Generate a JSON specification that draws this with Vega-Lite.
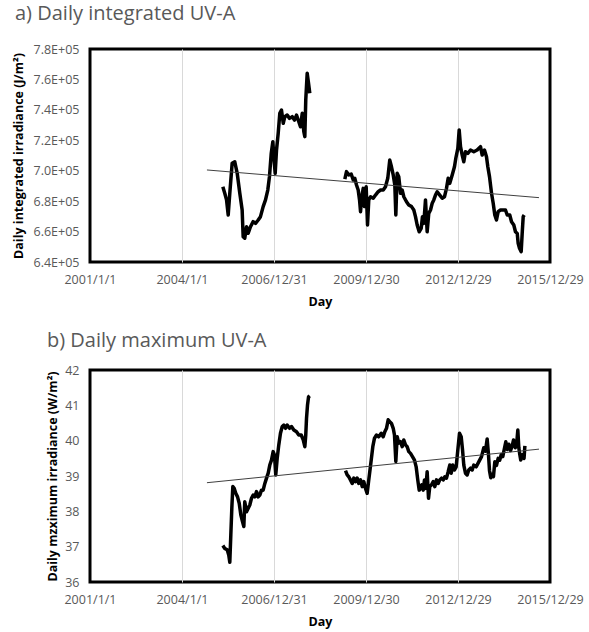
{
  "$schema": "https://vega.github.io/schema/vega-lite/v6.json",
  "background": "white",
  "padding": {"top": 2, "left": 10, "right": 5, "bottom": 2},
  "spacing": 19,
  "datasets": {
    "integrated": [
      {"date": "2005-05-01", "irradiance": 689500, "period": 1},
      {"date": "2005-05-24", "irradiance": 685200, "period": 1},
      {"date": "2005-06-14", "irradiance": 680800, "period": 1},
      {"date": "2005-07-04", "irradiance": 670900, "period": 1},
      {"date": "2005-07-23", "irradiance": 685200, "period": 1},
      {"date": "2005-08-20", "irradiance": 704900, "period": 1},
      {"date": "2005-09-20", "irradiance": 705900, "period": 1},
      {"date": "2005-10-19", "irradiance": 698300, "period": 1},
      {"date": "2005-11-19", "irradiance": 685200, "period": 1},
      {"date": "2005-12-17", "irradiance": 674200, "period": 1},
      {"date": "2005-12-29", "irradiance": 656600, "period": 1},
      {"date": "2006-01-17", "irradiance": 655600, "period": 1},
      {"date": "2006-02-07", "irradiance": 663200, "period": 1},
      {"date": "2006-02-27", "irradiance": 658900, "period": 1},
      {"date": "2006-03-26", "irradiance": 663200, "period": 1},
      {"date": "2006-04-27", "irradiance": 666500, "period": 1},
      {"date": "2006-05-25", "irradiance": 665400, "period": 1},
      {"date": "2006-06-26", "irradiance": 667600, "period": 1},
      {"date": "2006-07-23", "irradiance": 669800, "period": 1},
      {"date": "2006-08-24", "irradiance": 676400, "period": 1},
      {"date": "2006-09-21", "irradiance": 680800, "period": 1},
      {"date": "2006-10-18", "irradiance": 687300, "period": 1},
      {"date": "2006-11-07", "irradiance": 696100, "period": 1},
      {"date": "2006-11-28", "irradiance": 711400, "period": 1},
      {"date": "2006-12-17", "irradiance": 719100, "period": 1},
      {"date": "2006-12-29", "irradiance": 709200, "period": 1},
      {"date": "2007-01-14", "irradiance": 698300, "period": 1},
      {"date": "2007-01-30", "irradiance": 713600, "period": 1},
      {"date": "2007-02-19", "irradiance": 724600, "period": 1},
      {"date": "2007-03-10", "irradiance": 737700, "period": 1},
      {"date": "2007-03-30", "irradiance": 739900, "period": 1},
      {"date": "2007-04-20", "irradiance": 731200, "period": 1},
      {"date": "2007-05-09", "irradiance": 735500, "period": 1},
      {"date": "2007-06-06", "irradiance": 736600, "period": 1},
      {"date": "2007-07-04", "irradiance": 734400, "period": 1},
      {"date": "2007-08-05", "irradiance": 735500, "period": 1},
      {"date": "2007-09-01", "irradiance": 733300, "period": 1},
      {"date": "2007-09-25", "irradiance": 736600, "period": 1},
      {"date": "2007-10-22", "irradiance": 732200, "period": 1},
      {"date": "2007-11-11", "irradiance": 728900, "period": 1},
      {"date": "2007-12-02", "irradiance": 737700, "period": 1},
      {"date": "2007-12-21", "irradiance": 725600, "period": 1},
      {"date": "2008-01-02", "irradiance": 722400, "period": 1},
      {"date": "2008-01-13", "irradiance": 746500, "period": 1},
      {"date": "2008-01-30", "irradiance": 764000, "period": 1},
      {"date": "2008-02-15", "irradiance": 757500, "period": 1},
      {"date": "2008-03-01", "irradiance": 750900, "period": 1},
      {"date": "2009-04-22", "irradiance": 694400, "period": 2},
      {"date": "2009-05-12", "irradiance": 699400, "period": 2},
      {"date": "2009-06-08", "irradiance": 697200, "period": 2},
      {"date": "2009-07-07", "irradiance": 697800, "period": 2},
      {"date": "2009-07-31", "irradiance": 693900, "period": 2},
      {"date": "2009-08-19", "irradiance": 695000, "period": 2},
      {"date": "2009-09-08", "irradiance": 690600, "period": 2},
      {"date": "2009-09-28", "irradiance": 687300, "period": 2},
      {"date": "2009-10-14", "irradiance": 680800, "period": 2},
      {"date": "2009-10-26", "irradiance": 673100, "period": 2},
      {"date": "2009-11-10", "irradiance": 682900, "period": 2},
      {"date": "2009-11-27", "irradiance": 688400, "period": 2},
      {"date": "2009-12-12", "irradiance": 676400, "period": 2},
      {"date": "2010-01-01", "irradiance": 689500, "period": 2},
      {"date": "2010-01-17", "irradiance": 664300, "period": 2},
      {"date": "2010-02-01", "irradiance": 680800, "period": 2},
      {"date": "2010-02-22", "irradiance": 682900, "period": 2},
      {"date": "2010-03-26", "irradiance": 681900, "period": 2},
      {"date": "2010-04-22", "irradiance": 684000, "period": 2},
      {"date": "2010-05-24", "irradiance": 686200, "period": 2},
      {"date": "2010-06-21", "irradiance": 687300, "period": 2},
      {"date": "2010-07-23", "irradiance": 687300, "period": 2},
      {"date": "2010-08-19", "irradiance": 689500, "period": 2},
      {"date": "2010-09-15", "irradiance": 695000, "period": 2},
      {"date": "2010-10-09", "irradiance": 707000, "period": 2},
      {"date": "2010-10-29", "irradiance": 702600, "period": 2},
      {"date": "2010-11-19", "irradiance": 697200, "period": 2},
      {"date": "2010-12-08", "irradiance": 690600, "period": 2},
      {"date": "2010-12-20", "irradiance": 670900, "period": 2},
      {"date": "2011-01-05", "irradiance": 698300, "period": 2},
      {"date": "2011-01-24", "irradiance": 696100, "period": 2},
      {"date": "2011-02-14", "irradiance": 685200, "period": 2},
      {"date": "2011-03-06", "irradiance": 687300, "period": 2},
      {"date": "2011-03-25", "irradiance": 682900, "period": 2},
      {"date": "2011-04-26", "irradiance": 679600, "period": 2},
      {"date": "2011-05-23", "irradiance": 677500, "period": 2},
      {"date": "2011-06-25", "irradiance": 676400, "period": 2},
      {"date": "2011-07-22", "irradiance": 674200, "period": 2},
      {"date": "2011-08-11", "irradiance": 669800, "period": 2},
      {"date": "2011-08-31", "irradiance": 664300, "period": 2},
      {"date": "2011-09-24", "irradiance": 659900, "period": 2},
      {"date": "2011-10-18", "irradiance": 662100, "period": 2},
      {"date": "2011-11-02", "irradiance": 669800, "period": 2},
      {"date": "2011-11-18", "irradiance": 665400, "period": 2},
      {"date": "2011-12-08", "irradiance": 680800, "period": 2},
      {"date": "2011-12-28", "irradiance": 659900, "period": 2},
      {"date": "2012-01-16", "irradiance": 672000, "period": 2},
      {"date": "2012-02-06", "irradiance": 674200, "period": 2},
      {"date": "2012-02-26", "irradiance": 678600, "period": 2},
      {"date": "2012-03-16", "irradiance": 680800, "period": 2},
      {"date": "2012-04-05", "irradiance": 684000, "period": 2},
      {"date": "2012-04-25", "irradiance": 686200, "period": 2},
      {"date": "2012-05-26", "irradiance": 684000, "period": 2},
      {"date": "2012-06-24", "irradiance": 681900, "period": 2},
      {"date": "2012-07-21", "irradiance": 682900, "period": 2},
      {"date": "2012-08-14", "irradiance": 688400, "period": 2},
      {"date": "2012-09-03", "irradiance": 695000, "period": 2},
      {"date": "2012-09-22", "irradiance": 691700, "period": 2},
      {"date": "2012-10-21", "irradiance": 697200, "period": 2},
      {"date": "2012-11-17", "irradiance": 702600, "period": 2},
      {"date": "2012-12-03", "irradiance": 708200, "period": 2},
      {"date": "2012-12-27", "irradiance": 714700, "period": 2},
      {"date": "2013-01-12", "irradiance": 726800, "period": 2},
      {"date": "2013-01-28", "irradiance": 715800, "period": 2},
      {"date": "2013-02-17", "irradiance": 710300, "period": 2},
      {"date": "2013-03-08", "irradiance": 705900, "period": 2},
      {"date": "2013-03-28", "irradiance": 712500, "period": 2},
      {"date": "2013-04-25", "irradiance": 711400, "period": 2},
      {"date": "2013-05-27", "irradiance": 713600, "period": 2},
      {"date": "2013-07-05", "irradiance": 712500, "period": 2},
      {"date": "2013-08-14", "irradiance": 713600, "period": 2},
      {"date": "2013-09-23", "irradiance": 715800, "period": 2},
      {"date": "2013-10-13", "irradiance": 710300, "period": 2},
      {"date": "2013-11-09", "irradiance": 713600, "period": 2},
      {"date": "2013-12-03", "irradiance": 709200, "period": 2},
      {"date": "2013-12-19", "irradiance": 702600, "period": 2},
      {"date": "2014-01-08", "irradiance": 696100, "period": 2},
      {"date": "2014-02-01", "irradiance": 685200, "period": 2},
      {"date": "2014-02-21", "irradiance": 678600, "period": 2},
      {"date": "2014-03-12", "irradiance": 670900, "period": 2},
      {"date": "2014-04-01", "irradiance": 667600, "period": 2},
      {"date": "2014-04-21", "irradiance": 673100, "period": 2},
      {"date": "2014-05-19", "irradiance": 674200, "period": 2},
      {"date": "2014-06-20", "irradiance": 674200, "period": 2},
      {"date": "2014-07-17", "irradiance": 674200, "period": 2},
      {"date": "2014-08-07", "irradiance": 670900, "period": 2},
      {"date": "2014-09-06", "irradiance": 670900, "period": 2},
      {"date": "2014-09-27", "irradiance": 666500, "period": 2},
      {"date": "2014-10-24", "irradiance": 664300, "period": 2},
      {"date": "2014-11-13", "irradiance": 659900, "period": 2},
      {"date": "2014-12-04", "irradiance": 658800, "period": 2},
      {"date": "2014-12-15", "irradiance": 652300, "period": 2},
      {"date": "2014-12-31", "irradiance": 649000, "period": 2},
      {"date": "2015-01-20", "irradiance": 646800, "period": 2},
      {"date": "2015-02-01", "irradiance": 658800, "period": 2},
      {"date": "2015-02-13", "irradiance": 669800, "period": 2},
      {"date": "2015-02-25", "irradiance": 670900, "period": 2}
    ],
    "integrated_trend": [
      {"date": "2004-10-24", "irradiance": 700500},
      {"date": "2015-08-20", "irradiance": 682300}
    ],
    "maximum": [
      {"date": "2005-05-01", "irradiance": 37.03, "period": 1},
      {"date": "2005-05-24", "irradiance": 36.95, "period": 1},
      {"date": "2005-06-22", "irradiance": 36.91, "period": 1},
      {"date": "2005-07-11", "irradiance": 36.76, "period": 1},
      {"date": "2005-07-23", "irradiance": 36.56, "period": 1},
      {"date": "2005-08-04", "irradiance": 37.33, "period": 1},
      {"date": "2005-08-16", "irradiance": 38.09, "period": 1},
      {"date": "2005-08-28", "irradiance": 38.70, "period": 1},
      {"date": "2005-09-13", "irradiance": 38.65, "period": 1},
      {"date": "2005-10-02", "irradiance": 38.51, "period": 1},
      {"date": "2005-10-23", "irradiance": 38.41, "period": 1},
      {"date": "2005-11-12", "irradiance": 38.23, "period": 1},
      {"date": "2005-12-01", "irradiance": 37.90, "period": 1},
      {"date": "2005-12-21", "irradiance": 37.71, "period": 1},
      {"date": "2006-01-06", "irradiance": 37.57, "period": 1},
      {"date": "2006-01-17", "irradiance": 38.27, "period": 1},
      {"date": "2006-02-07", "irradiance": 37.99, "period": 1},
      {"date": "2006-02-27", "irradiance": 38.09, "period": 1},
      {"date": "2006-03-18", "irradiance": 38.18, "period": 1},
      {"date": "2006-04-07", "irradiance": 38.37, "period": 1},
      {"date": "2006-04-27", "irradiance": 38.46, "period": 1},
      {"date": "2006-05-17", "irradiance": 38.41, "period": 1},
      {"date": "2006-06-06", "irradiance": 38.56, "period": 1},
      {"date": "2006-06-26", "irradiance": 38.41, "period": 1},
      {"date": "2006-07-15", "irradiance": 38.46, "period": 1},
      {"date": "2006-08-04", "irradiance": 38.60, "period": 1},
      {"date": "2006-08-24", "irradiance": 38.60, "period": 1},
      {"date": "2006-09-13", "irradiance": 38.79, "period": 1},
      {"date": "2006-10-03", "irradiance": 38.94, "period": 1},
      {"date": "2006-10-23", "irradiance": 39.08, "period": 1},
      {"date": "2006-11-11", "irradiance": 39.31, "period": 1},
      {"date": "2006-12-01", "irradiance": 39.45, "period": 1},
      {"date": "2006-12-21", "irradiance": 39.69, "period": 1},
      {"date": "2007-01-06", "irradiance": 39.59, "period": 1},
      {"date": "2007-01-21", "irradiance": 39.03, "period": 1},
      {"date": "2007-02-07", "irradiance": 39.50, "period": 1},
      {"date": "2007-02-26", "irradiance": 39.88, "period": 1},
      {"date": "2007-03-18", "irradiance": 40.21, "period": 1},
      {"date": "2007-04-08", "irradiance": 40.40, "period": 1},
      {"date": "2007-04-27", "irradiance": 40.44, "period": 1},
      {"date": "2007-05-17", "irradiance": 40.35, "period": 1},
      {"date": "2007-06-06", "irradiance": 40.44, "period": 1},
      {"date": "2007-07-04", "irradiance": 40.35, "period": 1},
      {"date": "2007-07-27", "irradiance": 40.40, "period": 1},
      {"date": "2007-08-24", "irradiance": 40.30, "period": 1},
      {"date": "2007-09-25", "irradiance": 40.25, "period": 1},
      {"date": "2007-10-22", "irradiance": 40.16, "period": 1},
      {"date": "2007-11-20", "irradiance": 40.16, "period": 1},
      {"date": "2007-12-14", "irradiance": 40.02, "period": 1},
      {"date": "2008-01-02", "irradiance": 39.83, "period": 1},
      {"date": "2008-01-13", "irradiance": 40.16, "period": 1},
      {"date": "2008-01-22", "irradiance": 40.63, "period": 1},
      {"date": "2008-02-03", "irradiance": 41.01, "period": 1},
      {"date": "2008-02-15", "irradiance": 41.24, "period": 1},
      {"date": "2008-03-01", "irradiance": 41.27, "period": 1},
      {"date": "2009-04-30", "irradiance": 39.15, "period": 2},
      {"date": "2009-05-20", "irradiance": 39.03, "period": 2},
      {"date": "2009-06-08", "irradiance": 38.98, "period": 2},
      {"date": "2009-06-28", "irradiance": 38.89, "period": 2},
      {"date": "2009-07-19", "irradiance": 38.79, "period": 2},
      {"date": "2009-08-07", "irradiance": 38.94, "period": 2},
      {"date": "2009-08-27", "irradiance": 38.84, "period": 2},
      {"date": "2009-09-16", "irradiance": 38.94, "period": 2},
      {"date": "2009-10-05", "irradiance": 38.79, "period": 2},
      {"date": "2009-10-26", "irradiance": 38.89, "period": 2},
      {"date": "2009-11-15", "irradiance": 38.70, "period": 2},
      {"date": "2009-12-04", "irradiance": 38.84, "period": 2},
      {"date": "2009-12-24", "irradiance": 38.65, "period": 2},
      {"date": "2010-01-13", "irradiance": 38.51, "period": 2},
      {"date": "2010-02-01", "irradiance": 38.89, "period": 2},
      {"date": "2010-02-13", "irradiance": 39.12, "period": 2},
      {"date": "2010-03-02", "irradiance": 39.45, "period": 2},
      {"date": "2010-03-21", "irradiance": 39.83, "period": 2},
      {"date": "2010-04-10", "irradiance": 40.07, "period": 2},
      {"date": "2010-05-04", "irradiance": 40.16, "period": 2},
      {"date": "2010-05-31", "irradiance": 40.11, "period": 2},
      {"date": "2010-06-29", "irradiance": 40.21, "period": 2},
      {"date": "2010-07-23", "irradiance": 40.11, "period": 2},
      {"date": "2010-08-11", "irradiance": 40.25, "period": 2},
      {"date": "2010-08-31", "irradiance": 40.35, "period": 2},
      {"date": "2010-09-20", "irradiance": 40.59, "period": 2},
      {"date": "2010-10-09", "irradiance": 40.54, "period": 2},
      {"date": "2010-10-29", "irradiance": 40.49, "period": 2},
      {"date": "2010-11-19", "irradiance": 40.35, "period": 2},
      {"date": "2010-12-04", "irradiance": 40.16, "period": 2},
      {"date": "2010-12-20", "irradiance": 39.41, "period": 2},
      {"date": "2011-01-05", "irradiance": 40.11, "period": 2},
      {"date": "2011-01-24", "irradiance": 39.93, "period": 2},
      {"date": "2011-02-14", "irradiance": 39.97, "period": 2},
      {"date": "2011-03-06", "irradiance": 39.83, "period": 2},
      {"date": "2011-03-25", "irradiance": 40.02, "period": 2},
      {"date": "2011-04-14", "irradiance": 39.88, "period": 2},
      {"date": "2011-05-04", "irradiance": 39.83, "period": 2},
      {"date": "2011-05-23", "irradiance": 39.69, "period": 2},
      {"date": "2011-06-13", "irradiance": 39.64, "period": 2},
      {"date": "2011-07-06", "irradiance": 39.55, "period": 2},
      {"date": "2011-07-30", "irradiance": 39.45, "period": 2},
      {"date": "2011-08-19", "irradiance": 39.26, "period": 2},
      {"date": "2011-09-07", "irradiance": 38.89, "period": 2},
      {"date": "2011-09-24", "irradiance": 38.60, "period": 2},
      {"date": "2011-10-09", "irradiance": 38.65, "period": 2},
      {"date": "2011-10-25", "irradiance": 38.75, "period": 2},
      {"date": "2011-11-11", "irradiance": 38.60, "period": 2},
      {"date": "2011-11-26", "irradiance": 38.89, "period": 2},
      {"date": "2011-12-12", "irradiance": 38.65, "period": 2},
      {"date": "2011-12-28", "irradiance": 39.12, "period": 2},
      {"date": "2012-01-13", "irradiance": 38.37, "period": 2},
      {"date": "2012-01-28", "irradiance": 38.70, "period": 2},
      {"date": "2012-02-18", "irradiance": 38.75, "period": 2},
      {"date": "2012-03-09", "irradiance": 38.84, "period": 2},
      {"date": "2012-03-28", "irradiance": 38.70, "period": 2},
      {"date": "2012-04-17", "irradiance": 38.89, "period": 2},
      {"date": "2012-05-07", "irradiance": 38.79, "period": 2},
      {"date": "2012-05-26", "irradiance": 38.89, "period": 2},
      {"date": "2012-06-16", "irradiance": 38.94, "period": 2},
      {"date": "2012-07-06", "irradiance": 38.89, "period": 2},
      {"date": "2012-07-25", "irradiance": 38.98, "period": 2},
      {"date": "2012-08-14", "irradiance": 38.94, "period": 2},
      {"date": "2012-09-03", "irradiance": 39.12, "period": 2},
      {"date": "2012-09-22", "irradiance": 39.31, "period": 2},
      {"date": "2012-10-09", "irradiance": 39.08, "period": 2},
      {"date": "2012-10-28", "irradiance": 39.31, "period": 2},
      {"date": "2012-11-17", "irradiance": 39.17, "period": 2},
      {"date": "2012-12-07", "irradiance": 39.26, "period": 2},
      {"date": "2012-12-27", "irradiance": 39.74, "period": 2},
      {"date": "2013-01-16", "irradiance": 40.21, "period": 2},
      {"date": "2013-02-05", "irradiance": 40.11, "period": 2},
      {"date": "2013-02-21", "irradiance": 39.74, "period": 2},
      {"date": "2013-03-08", "irradiance": 39.31, "period": 2},
      {"date": "2013-03-28", "irradiance": 39.08, "period": 2},
      {"date": "2013-04-17", "irradiance": 39.03, "period": 2},
      {"date": "2013-05-06", "irradiance": 39.17, "period": 2},
      {"date": "2013-05-27", "irradiance": 39.22, "period": 2},
      {"date": "2013-06-16", "irradiance": 39.17, "period": 2},
      {"date": "2013-07-05", "irradiance": 39.31, "period": 2},
      {"date": "2013-08-03", "irradiance": 39.26, "period": 2},
      {"date": "2013-09-02", "irradiance": 39.40, "period": 2},
      {"date": "2013-10-05", "irradiance": 39.55, "period": 2},
      {"date": "2013-11-01", "irradiance": 39.80, "period": 2},
      {"date": "2013-11-21", "irradiance": 39.70, "period": 2},
      {"date": "2013-12-11", "irradiance": 40.05, "period": 2},
      {"date": "2013-12-27", "irradiance": 39.60, "period": 2},
      {"date": "2014-01-08", "irradiance": 39.15, "period": 2},
      {"date": "2014-01-23", "irradiance": 38.95, "period": 2},
      {"date": "2014-02-09", "irradiance": 39.05, "period": 2},
      {"date": "2014-02-24", "irradiance": 38.98, "period": 2},
      {"date": "2014-03-12", "irradiance": 39.40, "period": 2},
      {"date": "2014-04-01", "irradiance": 39.30, "period": 2},
      {"date": "2014-04-21", "irradiance": 39.50, "period": 2},
      {"date": "2014-05-10", "irradiance": 39.45, "period": 2},
      {"date": "2014-05-27", "irradiance": 39.60, "period": 2},
      {"date": "2014-06-15", "irradiance": 39.55, "period": 2},
      {"date": "2014-07-02", "irradiance": 39.75, "period": 2},
      {"date": "2014-07-21", "irradiance": 39.97, "period": 2},
      {"date": "2014-08-07", "irradiance": 39.75, "period": 2},
      {"date": "2014-08-26", "irradiance": 39.90, "period": 2},
      {"date": "2014-09-15", "irradiance": 39.72, "period": 2},
      {"date": "2014-10-05", "irradiance": 39.85, "period": 2},
      {"date": "2014-10-21", "irradiance": 40.02, "period": 2},
      {"date": "2014-11-10", "irradiance": 39.80, "period": 2},
      {"date": "2014-11-25", "irradiance": 39.85, "period": 2},
      {"date": "2014-12-11", "irradiance": 40.30, "period": 2},
      {"date": "2014-12-23", "irradiance": 39.80, "period": 2},
      {"date": "2015-01-04", "irradiance": 39.60, "period": 2},
      {"date": "2015-01-15", "irradiance": 39.45, "period": 2},
      {"date": "2015-02-01", "irradiance": 39.60, "period": 2},
      {"date": "2015-02-23", "irradiance": 39.50, "period": 2},
      {"date": "2015-03-05", "irradiance": 39.85, "period": 2}
    ],
    "maximum_trend": [
      {"date": "2004-10-24", "irradiance": 38.81},
      {"date": "2015-08-20", "irradiance": 39.76}
    ]
  },
  "vconcat": [
    {
      "title": {"text": "a) Daily integrated UV-A", "frame": "group", "anchor": "start", "dx": -75, "offset": 3, "baseline": "alphabetic"},
      "width": 460,
      "height": 213,
      "layer": [
        {
          "data": {"name": "integrated"},
          "mark": {"type": "line", "color": "black", "strokeWidth": 3.5, "strokeJoin": "round", "clip": true},
          "encoding": {
            "x": {
              "field": "date", "type": "temporal",
              "scale": {"domain": [{"year": 2001, "month": 1, "date": 1}, {"year": 2015, "month": 12, "date": 29}], "nice": false},
              "axis": {
                "title": "Day",
                "format": "%Y/%-m/%-d",
                "values": [{"year": 2001, "month": 1, "date": 1}, {"year": 2004, "month": 1, "date": 1}, {"year": 2006, "month": 12, "date": 31}, {"year": 2009, "month": 12, "date": 30}, {"year": 2012, "month": 12, "date": 29}, {"year": 2015, "month": 12, "date": 29}],
                "tickCount": 6,
                "grid": true,
                "labelOverlap": false,
                "gridOpacity": {"condition": {"test": "datum.value < time(datetime(2002, 0, 1)) || datum.value > time(datetime(2015, 0, 1))", "value": 0}, "value": 1}
              }
            },
            "y": {
              "field": "irradiance", "type": "quantitative",
              "scale": {"domain": [640000, 780000], "nice": false, "zero": false},
              "axis": {
                "title": "Daily integrated irradiance (J/m²)",
                "titleX": -72,
                "titleBaseline": "middle",
                "values": [640000, 660000, 680000, 700000, 720000, 740000, 760000, 780000],
                "tickCount": 8,
                "labelOverlap": false,
                "labelExpr": "format(datum.value / 100000, '.1f') + 'E+05'"
              }
            },
            "detail": {"field": "period", "type": "nominal"}
          }
        },
        {
          "data": {"name": "integrated_trend"},
          "mark": {"type": "line", "color": "#404040", "strokeWidth": 1},
          "encoding": {
            "x": {"field": "date", "type": "temporal"},
            "y": {"field": "irradiance", "type": "quantitative"}
          }
        }
      ]
    },
    {
      "title": {"text": "b) Daily maximum UV-A", "frame": "group", "anchor": "start", "dx": -43, "offset": -3, "baseline": "alphabetic"},
      "width": 460,
      "height": 212,
      "layer": [
        {
          "data": {"name": "maximum"},
          "mark": {"type": "line", "color": "black", "strokeWidth": 3.5, "strokeJoin": "round", "clip": true},
          "encoding": {
            "x": {
              "field": "date", "type": "temporal",
              "scale": {"domain": [{"year": 2001, "month": 1, "date": 1}, {"year": 2015, "month": 12, "date": 29}], "nice": false},
              "axis": {
                "title": "Day",
                "format": "%Y/%-m/%-d",
                "values": [{"year": 2001, "month": 1, "date": 1}, {"year": 2004, "month": 1, "date": 1}, {"year": 2006, "month": 12, "date": 31}, {"year": 2009, "month": 12, "date": 30}, {"year": 2012, "month": 12, "date": 29}, {"year": 2015, "month": 12, "date": 29}],
                "tickCount": 6,
                "grid": true,
                "labelOverlap": false,
                "gridOpacity": {"condition": {"test": "datum.value < time(datetime(2002, 0, 1)) || datum.value > time(datetime(2015, 0, 1))", "value": 0}, "value": 1}
              }
            },
            "y": {
              "field": "irradiance", "type": "quantitative",
              "scale": {"domain": [36, 42], "nice": false, "zero": false},
              "axis": {
                "title": "Daily mzximum irradiance (W/m²)",
                "titleX": -38,
                "titleBaseline": "middle",
                "values": [36, 37, 38, 39, 40, 41, 42],
                "tickCount": 7,
                "labelOverlap": false,
                "format": "d"
              }
            },
            "detail": {"field": "period", "type": "nominal"}
          }
        },
        {
          "data": {"name": "maximum_trend"},
          "mark": {"type": "line", "color": "#404040", "strokeWidth": 1},
          "encoding": {
            "x": {"field": "date", "type": "temporal"},
            "y": {"field": "irradiance", "type": "quantitative"}
          }
        }
      ]
    }
  ],
  "config": {
    "font": "Open Sans",
    "view": {"stroke": "black", "strokeWidth": 3},
    "axis": {
      "domain": false,
      "ticks": false,
      "grid": false,
      "labelColor": "#595959",
      "labelFont": "Open Sans",
      "labelFontSize": 12.5,
      "titleFont": "Open Sans",
      "titleFontSize": 12.5,
      "titleFontWeight": "bold",
      "titleColor": "black",
      "labelFlush": false,
      "labelOverlap": false,
      "labelBound": false
    },
    "axisX": {"gridColor": "#d9d9d9", "gridWidth": 1, "labelPadding": 11, "titlePadding": 10, "labelAngle": 0},
    "axisY": {"labelPadding": 11},
    "title": {"font": "Open Sans", "fontSize": 20, "fontWeight": "normal", "color": "#595959"}
  }
}
